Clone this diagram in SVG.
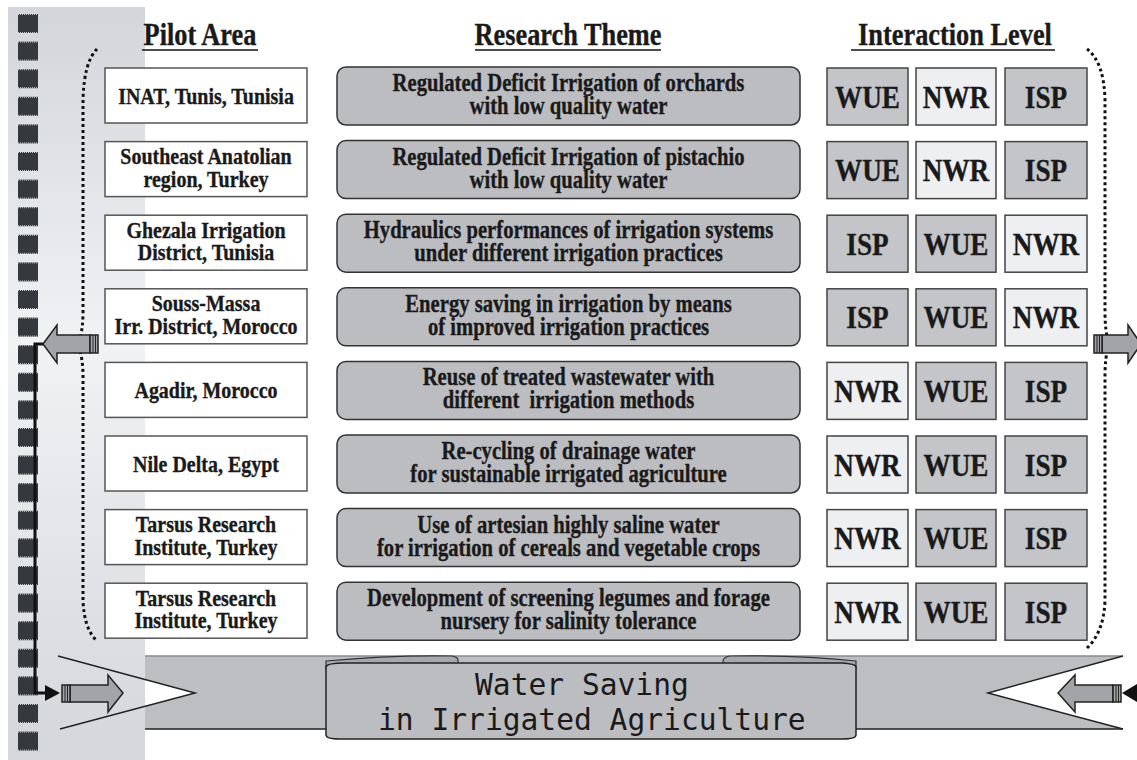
<svg xmlns="http://www.w3.org/2000/svg" width="1137" height="760" viewBox="0 0 1137 760">
<defs>
<linearGradient id="strip" x1="0" y1="0" x2="0" y2="1">
<stop offset="0" stop-color="#d3d5da"/>
<stop offset="0.45" stop-color="#f1f2f4"/>
<stop offset="1" stop-color="#d4d6da"/>
</linearGradient>
<g id="sq"><rect x="18" y="0" width="20" height="19" fill="#35383c"/><line x1="18" y1="0.5" x2="38" y2="0.5" stroke="#c8c9cc" stroke-dasharray="1 1" stroke-width="1"/><line x1="18" y1="18.5" x2="38" y2="18.5" stroke="#c8c9cc" stroke-dasharray="1 1" stroke-width="1"/></g>
</defs>
<style>
.pilot{fill:#ffffff;stroke:#555555;stroke-width:1.5}
.theme{fill:#bcbdc1;stroke:#333333;stroke-width:1.5}
.lv{fill:#c4c5c9;stroke:#444444;stroke-width:1.5}
.lvl{fill:#eeeff1;stroke:#444444;stroke-width:1.5}
.t{font-family:"Liberation Serif","Times New Roman",serif;font-weight:bold;fill:#1a1a1a;stroke:#1a1a1a;stroke-width:0.35;text-anchor:middle}
.ps{font-size:23.5px}
.rs{font-size:24.3px}
.ls{font-size:32px}
.hd{font-size:31px}
.mono{font-family:"DejaVu Sans Mono","Liberation Mono",monospace;font-size:29.6px;fill:#1a1a1a}
.dot{fill:none;stroke:#111111;stroke-width:3;stroke-dasharray:3 3}
.arr{fill:#a3a4a8;stroke:#222222;stroke-width:1.5}
.blk{fill:#111111;stroke:none}
.ln{stroke:#111111;stroke-width:3;fill:none}
</style>

<g id="strip-bg">
<rect x="8" y="7" width="137" height="753" fill="url(#strip)"/>
<use href="#sq" y="14"/><use href="#sq" y="41.6"/><use href="#sq" y="69.2"/><use href="#sq" y="96.8"/><use href="#sq" y="124.4"/><use href="#sq" y="152"/><use href="#sq" y="179.6"/><use href="#sq" y="207.2"/><use href="#sq" y="234.8"/><use href="#sq" y="262.4"/><use href="#sq" y="290"/><use href="#sq" y="317.6"/><use href="#sq" y="345.2"/><use href="#sq" y="372.8"/><use href="#sq" y="400.4"/><use href="#sq" y="428"/><use href="#sq" y="455.6"/><use href="#sq" y="483.2"/><use href="#sq" y="510.8"/><use href="#sq" y="538.4"/><use href="#sq" y="566"/><use href="#sq" y="593.6"/><use href="#sq" y="621.2"/><use href="#sq" y="648.8"/><use href="#sq" y="676.4"/><use href="#sq" y="704"/><use href="#sq" y="731.6"/>
</g>

<g id="headers">
<text class="t hd" transform="translate(200,45) scale(0.85,1)">Pilot Area</text>
<line x1="142" y1="50" x2="258" y2="50" stroke="#111" stroke-width="1.5"/>
<text class="t hd" transform="translate(568,45) scale(0.85,1)">Research Theme</text>
<line x1="475" y1="50" x2="661" y2="50" stroke="#111" stroke-width="1.5"/>
<text class="t hd" transform="translate(955,45) scale(0.85,1)">Interaction Level</text>
<line x1="851" y1="50" x2="1055" y2="50" stroke="#111" stroke-width="1.5"/>
</g>

<g id="braces">
<path class="dot" d="M97,49 Q84,62 83,100 L83,312 Q83,332 78,344 Q83,358 83,376 L83,600 Q84,628 96,640"/>
<path class="dot" d="M1087,49 Q1104,62 1105,100 L1105,312 Q1105,332 1109,344 Q1105,356 1105,376 L1105,600 Q1104,632 1087,648"/>
</g>

<g id="row1">
<rect class="pilot" x="105" y="68" width="202" height="55"/>
<text class="t ps" transform="translate(206,103.5) scale(0.85,1)">INAT, Tunis, Tunisia</text>
<rect class="theme" x="337" y="67" width="463" height="58" rx="9"/>
<text class="t rs" transform="translate(568.5,91) scale(0.85,1)">Regulated Deficit Irrigation of orchards</text>
<text class="t rs" transform="translate(568.5,114) scale(0.85,1)">with low quality water</text>
<rect class="lv" x="827" y="68" width="81" height="57"/><text class="t ls" transform="translate(867.5,107.5) scale(0.85,1)">WUE</text>
<rect class="lvl" x="916" y="68" width="80" height="57"/><text class="t ls" transform="translate(956,107.5) scale(0.85,1)">NWR</text>
<rect class="lv" x="1005" y="68" width="82" height="57"/><text class="t ls" transform="translate(1046,107.5) scale(0.85,1)">ISP</text>
</g>

<g id="row2" transform="translate(0,73.6)">
<rect class="pilot" x="105" y="68" width="202" height="55"/>
<text class="t ps" transform="translate(206,90.5) scale(0.85,1)">Southeast Anatolian</text>
<text class="t ps" transform="translate(206,113) scale(0.85,1)">region, Turkey</text>
<rect class="theme" x="337" y="67" width="463" height="58" rx="9"/>
<text class="t rs" transform="translate(568.5,91) scale(0.85,1)">Regulated Deficit Irrigation of pistachio</text>
<text class="t rs" transform="translate(568.5,114) scale(0.85,1)">with low quality water</text>
<rect class="lv" x="827" y="68" width="81" height="57"/><text class="t ls" transform="translate(867.5,107.5) scale(0.85,1)">WUE</text>
<rect class="lvl" x="916" y="68" width="80" height="57"/><text class="t ls" transform="translate(956,107.5) scale(0.85,1)">NWR</text>
<rect class="lv" x="1005" y="68" width="82" height="57"/><text class="t ls" transform="translate(1046,107.5) scale(0.85,1)">ISP</text>
</g>

<g id="row3" transform="translate(0,147.2)">
<rect class="pilot" x="105" y="68" width="202" height="55"/>
<text class="t ps" transform="translate(206,90.5) scale(0.85,1)">Ghezala Irrigation</text>
<text class="t ps" transform="translate(206,113) scale(0.85,1)">District, Tunisia</text>
<rect class="theme" x="337" y="67" width="463" height="58" rx="9"/>
<text class="t rs" transform="translate(568.5,91) scale(0.85,1)">Hydraulics performances of irrigation systems</text>
<text class="t rs" transform="translate(568.5,114) scale(0.85,1)">under different irrigation practices</text>
<rect class="lv" x="827" y="68" width="81" height="57"/><text class="t ls" transform="translate(867.5,107.5) scale(0.85,1)">ISP</text>
<rect class="lv" x="916" y="68" width="80" height="57"/><text class="t ls" transform="translate(956,107.5) scale(0.85,1)">WUE</text>
<rect class="lvl" x="1005" y="68" width="82" height="57"/><text class="t ls" transform="translate(1046,107.5) scale(0.85,1)">NWR</text>
</g>

<g id="row4" transform="translate(0,220.8)">
<rect class="pilot" x="105" y="68" width="202" height="55"/>
<text class="t ps" transform="translate(206,90.5) scale(0.85,1)">Souss-Massa</text>
<text class="t ps" transform="translate(206,113) scale(0.85,1)">Irr. District, Morocco</text>
<rect class="theme" x="337" y="67" width="463" height="58" rx="9"/>
<text class="t rs" transform="translate(568.5,91) scale(0.85,1)">Energy saving in irrigation by means</text>
<text class="t rs" transform="translate(568.5,114) scale(0.85,1)">of improved irrigation practices</text>
<rect class="lv" x="827" y="68" width="81" height="57"/><text class="t ls" transform="translate(867.5,107.5) scale(0.85,1)">ISP</text>
<rect class="lv" x="916" y="68" width="80" height="57"/><text class="t ls" transform="translate(956,107.5) scale(0.85,1)">WUE</text>
<rect class="lvl" x="1005" y="68" width="82" height="57"/><text class="t ls" transform="translate(1046,107.5) scale(0.85,1)">NWR</text>
</g>

<g id="row5" transform="translate(0,294.4)">
<rect class="pilot" x="105" y="68" width="202" height="55"/>
<text class="t ps" transform="translate(206,103.5) scale(0.85,1)">Agadir, Morocco</text>
<rect class="theme" x="337" y="67" width="463" height="58" rx="9"/>
<text class="t rs" transform="translate(568.5,91) scale(0.85,1)">Reuse of treated wastewater with</text>
<text class="t rs" transform="translate(568.5,114) scale(0.85,1)" xml:space="preserve">different  irrigation methods</text>
<rect class="lvl" x="827" y="68" width="81" height="57"/><text class="t ls" transform="translate(867.5,107.5) scale(0.85,1)">NWR</text>
<rect class="lv" x="916" y="68" width="80" height="57"/><text class="t ls" transform="translate(956,107.5) scale(0.85,1)">WUE</text>
<rect class="lv" x="1005" y="68" width="82" height="57"/><text class="t ls" transform="translate(1046,107.5) scale(0.85,1)">ISP</text>
</g>

<g id="row6" transform="translate(0,368)">
<rect class="pilot" x="105" y="68" width="202" height="55"/>
<text class="t ps" transform="translate(206,103.5) scale(0.85,1)">Nile Delta, Egypt</text>
<rect class="theme" x="337" y="67" width="463" height="58" rx="9"/>
<text class="t rs" transform="translate(568.5,91) scale(0.85,1)">Re-cycling of drainage water</text>
<text class="t rs" transform="translate(568.5,114) scale(0.85,1)">for sustainable irrigated agriculture</text>
<rect class="lvl" x="827" y="68" width="81" height="57"/><text class="t ls" transform="translate(867.5,107.5) scale(0.85,1)">NWR</text>
<rect class="lv" x="916" y="68" width="80" height="57"/><text class="t ls" transform="translate(956,107.5) scale(0.85,1)">WUE</text>
<rect class="lv" x="1005" y="68" width="82" height="57"/><text class="t ls" transform="translate(1046,107.5) scale(0.85,1)">ISP</text>
</g>

<g id="row7" transform="translate(0,441.6)">
<rect class="pilot" x="105" y="68" width="202" height="55"/>
<text class="t ps" transform="translate(206,90.5) scale(0.85,1)">Tarsus Research</text>
<text class="t ps" transform="translate(206,113) scale(0.85,1)">Institute, Turkey</text>
<rect class="theme" x="337" y="67" width="463" height="58" rx="9"/>
<text class="t rs" transform="translate(568.5,91) scale(0.85,1)">Use of artesian highly saline water</text>
<text class="t rs" transform="translate(568.5,114) scale(0.85,1)">for irrigation of cereals and vegetable crops</text>
<rect class="lvl" x="827" y="68" width="81" height="57"/><text class="t ls" transform="translate(867.5,107.5) scale(0.85,1)">NWR</text>
<rect class="lv" x="916" y="68" width="80" height="57"/><text class="t ls" transform="translate(956,107.5) scale(0.85,1)">WUE</text>
<rect class="lv" x="1005" y="68" width="82" height="57"/><text class="t ls" transform="translate(1046,107.5) scale(0.85,1)">ISP</text>
</g>

<g id="row8" transform="translate(0,515.2)">
<rect class="pilot" x="105" y="68" width="202" height="55"/>
<text class="t ps" transform="translate(206,90.5) scale(0.85,1)">Tarsus Research</text>
<text class="t ps" transform="translate(206,113) scale(0.85,1)">Institute, Turkey</text>
<rect class="theme" x="337" y="67" width="463" height="58" rx="9"/>
<text class="t rs" transform="translate(568.5,91) scale(0.85,1)">Development of screening legumes and forage</text>
<text class="t rs" transform="translate(568.5,114) scale(0.85,1)">nursery for salinity tolerance</text>
<rect class="lvl" x="827" y="68" width="81" height="57"/><text class="t ls" transform="translate(867.5,107.5) scale(0.85,1)">NWR</text>
<rect class="lv" x="916" y="68" width="80" height="57"/><text class="t ls" transform="translate(956,107.5) scale(0.85,1)">WUE</text>
<rect class="lv" x="1005" y="68" width="82" height="57"/><text class="t ls" transform="translate(1046,107.5) scale(0.85,1)">ISP</text>
</g>

<g id="banner">
<path d="M145,656 L1123,656 L988,693 L1123,729 L145,729 L145,706.3 L195,693 L145,679.5 Z" fill="#bdbec2"/>
<line x1="145" y1="656" x2="1123" y2="656" stroke="#8a8b8f" stroke-width="1.5"/>
<line x1="145" y1="729" x2="1123" y2="729" stroke="#222" stroke-width="1.5"/>
<polyline points="58,656 195,693 60,729" fill="none" stroke="#222" stroke-width="1.5"/>
<polyline points="1123,656 988,693 1123,729" fill="none" stroke="#222" stroke-width="1.5"/>
<path d="M326,668 L326,661 Q390,655 452,656 Q459,657 458,662 L458,668 Z" fill="#a7a8ac" stroke="#333" stroke-width="1.2"/>
<path d="M723,668 L723,661 Q724,656 732,656 Q795,655 856,661 L856,668 Z" fill="#a7a8ac" stroke="#333" stroke-width="1.2"/>
<path d="M326,667 Q327,663 345,663 L842,663 Q856,664 856,667 L856,735 Q856,739 842,739 L340,739 Q326,739 326,735 Z" fill="#bcbdc1" stroke="#222" stroke-width="1.5"/>
<text class="mono" x="475" y="695">Water Saving</text>
<text class="mono" x="378" y="730">in Irrigated Agriculture</text>
</g>

<g id="connectors">
<polyline class="ln" points="45,344 35,344 35,693 46,693"/>
<polygon class="blk" points="45,685 60,693 45,701"/>
<path class="arr" d="M43,344 L57,325 L57,335 L90,335 L90,353 L57,353 L57,363 Z"/>
<rect class="arr" x="90" y="335" width="8" height="18"/><line x1="93" y1="335" x2="93" y2="353" stroke="#222" stroke-width="1"/><line x1="95.5" y1="335" x2="95.5" y2="353" stroke="#222" stroke-width="1"/>
<path class="arr" d="M123,693 L108,675 L108,685 L70,685 L70,702 L108,702 L108,712 Z"/>
<rect class="arr" x="62" y="685" width="8" height="17"/><line x1="65" y1="685" x2="65" y2="702" stroke="#222" stroke-width="1"/><line x1="67.5" y1="685" x2="67.5" y2="702" stroke="#222" stroke-width="1"/>
<path class="arr" d="M1141,344 L1128,325 L1128,335 L1102,335 L1102,353 L1128,353 L1128,363 Z"/>
<rect class="arr" x="1094" y="335" width="8" height="18"/><line x1="1097" y1="335" x2="1097" y2="353" stroke="#222" stroke-width="1"/><line x1="1099.5" y1="335" x2="1099.5" y2="353" stroke="#222" stroke-width="1"/>
<path class="arr" d="M1058,693 L1075,675 L1075,685 L1113,685 L1113,702 L1075,702 L1075,712 Z"/>
<rect class="arr" x="1113" y="685" width="8" height="17"/><line x1="1116" y1="685" x2="1116" y2="702" stroke="#222" stroke-width="1"/><line x1="1118.5" y1="685" x2="1118.5" y2="702" stroke="#222" stroke-width="1"/>
<polygon class="blk" points="1137,684 1122,693 1137,702"/>
</g>
</svg>
